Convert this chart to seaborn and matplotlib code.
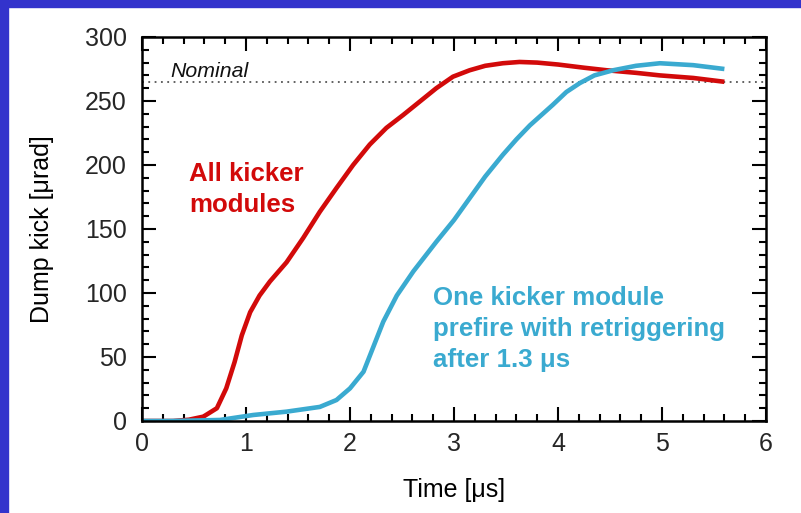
import numpy as np
import pandas as pd
import matplotlib
matplotlib.use("Agg")
import matplotlib.pyplot as plt
from matplotlib.ticker import MultipleLocator
from matplotlib.patches import Rectangle
import seaborn as sns

# ---- data ----
all_time = [0, 0.3, 0.45, 0.59, 0.72, 0.81, 0.89, 0.96, 1.04, 1.13, 1.23, 1.39,
            1.55, 1.71, 1.87, 2.03, 2.19, 2.35, 2.51, 2.67, 2.83, 2.99, 3.15,
            3.3, 3.47, 3.63, 3.8, 4.0, 4.25, 4.47, 4.75, 4.98, 5.3, 5.6]
all_kick = [0, 0, 1, 3.4, 10, 25.5, 46, 67, 85, 98, 109, 124,
            143, 163.5, 182, 200, 216, 229, 239, 249.5, 260, 269, 274,
            277.5, 279.5, 280.5, 280, 278.5, 276, 274, 272, 270, 268, 265]

one_time = [0, 0.27, 0.75, 1.07, 1.39, 1.71, 1.87, 2.0, 2.13, 2.22, 2.32,
            2.45, 2.61, 2.83, 3.0, 3.15, 3.3, 3.47, 3.6, 3.73, 3.95, 4.08,
            4.21, 4.35, 4.53, 4.75, 4.98, 5.3, 5.6]
one_kick = [0, 0, 0.8, 4.7, 7.3, 11, 16.4, 25.5, 38.5, 57, 77.6,
            98, 117, 140, 157, 174, 191, 208, 220, 231, 247, 257,
            264, 270, 274, 277.5, 279.5, 278, 275]

nominal = 265
series_names = ["All kicker modules", "One kicker module prefire"]
x_ticks = [0, 1, 2, 3, 4, 5, 6]
y_ticks = [0, 50, 100, 150, 200, 250, 300]

RED = "#d20a0a"
BLUE = "#3aaad0"

df = pd.concat([
    pd.DataFrame({"time": all_time, "kick": all_kick, "series": series_names[0]}),
    pd.DataFrame({"time": one_time, "kick": one_kick, "series": series_names[1]}),
], ignore_index=True)

sns.set_theme(style="white")
plt.rcParams["font.family"] = ["Liberation Sans", "DejaVu Sans"]

fig = plt.figure(figsize=(8.01, 5.13), dpi=100)
fig.patch.set_facecolor("white")
# blue slide border (left and top)
fig.patches.append(Rectangle((0, 0), 8 / 801, 1, transform=fig.transFigure,
                             color="#3333cc", zorder=0))
fig.patches.append(Rectangle((0, 1 - 7 / 513), 1, 7 / 513, transform=fig.transFigure,
                             color="#3333cc", zorder=0))

ax = fig.add_axes([142 / 801, 92 / 513, 624 / 801, 384 / 513])

sns.lineplot(data=df, x="time", y="kick", hue="series",
             palette={series_names[0]: RED, series_names[1]: BLUE},
             estimator=None, sort=False, lw=3.3, legend=False, ax=ax,
             solid_capstyle="butt", solid_joinstyle="round")

ax.axhline(nominal, color="#555555", lw=1.3, linestyle=(0, (1, 2.5)), zorder=1)
ax.text(0.27, 268.5, "Nominal", style="italic", fontsize=15.3, color="#111111",
        va="baseline", ha="left")

ax.text(0.455, 163.5, "All kicker\nmodules", color=RED, fontsize=18.6,
        fontweight="bold", va="baseline", ha="left", linespacing=1.37)
ax.text(2.80, 42.4, "One kicker module\nprefire with retriggering\nafter 1.3 μs",
        color=BLUE, fontsize=18.6, fontweight="bold", va="baseline", ha="left",
        linespacing=1.36)

ax.set_xlim(0, 6)
ax.set_ylim(0, 300)
ax.set_xticks(x_ticks)
ax.set_yticks(y_ticks)
ax.xaxis.set_minor_locator(MultipleLocator(0.2))
ax.yaxis.set_minor_locator(MultipleLocator(10))
ax.tick_params(which="both", direction="in", top=True, right=True,
               bottom=True, left=True, color="black", width=1.5)
ax.tick_params(which="major", length=10)
ax.tick_params(which="minor", length=5)
ax.tick_params(axis="x", which="major", labelsize=18, pad=8)
ax.tick_params(axis="y", which="major", labelsize=18, pad=11)
for s in ax.spines.values():
    s.set_color("black")
    s.set_linewidth(1.8)

ax.set_xlabel("Time [μs]", fontsize=18, labelpad=16, color="black")
ax.set_ylabel("Dump kick [μrad]", fontsize=18, labelpad=22, color="black")

fig.savefig("out.png", dpi=100)
